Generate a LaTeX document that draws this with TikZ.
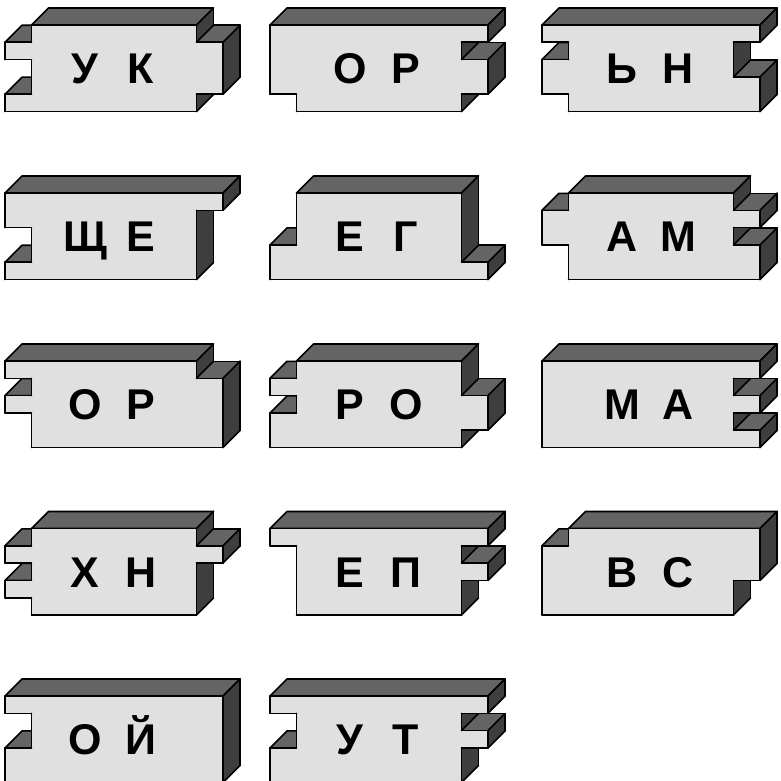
\documentclass[tikz,border=0pt]{standalone}
\usepackage{fontspec}
\setmainfont{Liberation Sans}
\definecolor{frontc}{RGB}{224,224,224}
\definecolor{topc}{RGB}{100,100,100}
\definecolor{sidec}{RGB}{62,62,62}
\def\hh{17.3}
\def\dd{17}
\tikzset{
  lab/.style={anchor=base, inner sep=0pt, font=\bfseries\fontsize{43}{50}\selectfont},
  edge/.style={draw=black, line width=1.6pt, line cap=round, line join=round},
}
% #1 x0, #2 y0, #3 left profile, #4 right profile, #5 #6 letters, #7 name
\newcommand\puzzle[7]{%
\begin{scope}[shift={(#1,#2)}]
  \pgfmathtruncatemacro\lz{{#3}[0]}%
  \pgfmathtruncatemacro\rz{{#4}[0]}%
  \pgfmathsetmacro\xlz{26.5*(1-\lz)}%
  \pgfmathsetmacro\xrz{191.5+26.5*\rz}%
  \filldraw[edge, fill=topc] (\xlz,0) -- (\xrz,0) -- (\xrz+\dd,-\dd) -- (\xlz+\dd,-\dd) -- cycle;
  % side face fills
  \foreach \k in {0,...,4}{%
    \pgfmathtruncatemacro\rk{{#4}[\k]}%
    \pgfmathtruncatemacro\kp{max(\k-1,0)}%
    \pgfmathtruncatemacro\rp{{#4}[\kp]}%
    \pgfmathsetmacro\xr{191.5+26.5*\rk}%
    \pgfmathsetmacro\yt{\k*\hh}%
    \pgfmathsetmacro\yb{(\k+1)*\hh}%
    \filldraw[fill=sidec, draw=sidec, line width=.5pt] (\xr,\yt) -- (\xr,\yb) -- (\xr+\dd,\yb-\dd) -- (\xr+\dd,\yt-\dd) -- cycle;
    \ifnum\k>0\relax\ifnum\rk>\rp\relax
      \filldraw[fill=topc, draw=topc, line width=.5pt] (191.5,\yt) -- (218,\yt) -- (218+\dd,\yt-\dd) -- (191.5+\dd,\yt-\dd) -- cycle;
    \fi\fi
  }
  % side face strokes
  \foreach \k in {0,...,4}{%
    \pgfmathtruncatemacro\rk{{#4}[\k]}%
    \pgfmathtruncatemacro\lk{{#3}[\k]}%
    \pgfmathtruncatemacro\kp{max(\k-1,0)}%
    \pgfmathtruncatemacro\rp{{#4}[\kp]}%
    \pgfmathtruncatemacro\lp{{#3}[\kp]}%
    \pgfmathsetmacro\xr{191.5+26.5*\rk}%
    \pgfmathsetmacro\yt{\k*\hh}%
    \pgfmathsetmacro\yb{(\k+1)*\hh}%
    \draw[edge] (\xr+\dd,\yt-\dd) -- (\xr+\dd,\yb-\dd);
    \ifnum\k=0\relax \draw[edge] (\xr,0) -- (\xr+\dd,-\dd); \fi
    \ifnum\k>0\relax\ifnum\rk=\rp\relax\else
      \draw[edge] (191.5,\yt) -- (191.5+\dd,\yt-\dd);
      \draw[edge] (218,\yt) -- (218+\dd,\yt-\dd);
      \ifnum\rk=1\relax \draw[edge] (191.5+\dd,\yt-\dd) -- (218+\dd,\yt-\dd); \fi
    \fi\fi
    \ifnum\k=4\relax \draw[edge] (\xr,\yb) -- (\xr+\dd,\yb-\dd); \fi
    \ifnum\k>0\relax\ifnum\lk>\lp\relax
      \filldraw[edge, fill=topc] (0,\yt) -- (26.5,\yt) -- (26.5+\dd,\yt-\dd) -- (\dd,\yt-\dd) -- cycle;
    \fi\fi
  }
  % front face fills
  \foreach \k in {0,...,4}{%
    \pgfmathtruncatemacro\rk{{#4}[\k]}%
    \pgfmathtruncatemacro\lk{{#3}[\k]}%
    \pgfmathsetmacro\xr{191.5+26.5*\rk}%
    \pgfmathsetmacro\xl{26.5*(1-\lk)}%
    \pgfmathsetmacro\yt{\k*\hh-0.4}%
    \pgfmathsetmacro\yb{(\k+1)*\hh+0.4}%
    \fill[frontc] (\xl,\yt) rectangle (\xr,\yb);
  }
  % front face strokes
  \foreach \k in {0,...,4}{%
    \pgfmathtruncatemacro\rk{{#4}[\k]}%
    \pgfmathtruncatemacro\lk{{#3}[\k]}%
    \pgfmathtruncatemacro\kp{max(\k-1,0)}%
    \pgfmathtruncatemacro\rp{{#4}[\kp]}%
    \pgfmathtruncatemacro\lp{{#3}[\kp]}%
    \pgfmathsetmacro\xr{191.5+26.5*\rk}%
    \pgfmathsetmacro\xl{26.5*(1-\lk)}%
    \pgfmathsetmacro\yt{\k*\hh}%
    \pgfmathsetmacro\yb{(\k+1)*\hh}%
    \draw[edge] (\xl,\yt) -- (\xl,\yb);
    \draw[edge] (\xr,\yt) -- (\xr,\yb);
    \ifnum\k=0\relax \draw[edge] (\xl,0) -- (\xr,0); \fi
    \ifnum\k=4\relax \draw[edge] (\xl,\yb) -- (\xr,\yb); \fi
    \ifnum\k>0\relax
      \ifnum\lk=\lp\relax\else \draw[edge] (0,\yt) -- (26.5,\yt); \fi
      \ifnum\rk=\rp\relax\else \draw[edge] (191.5,\yt) -- (218,\yt); \fi
    \fi
  }
  \node[lab] (#7a) at (80,58.5) {#5};
  \node[lab] (#7b) at (136,58.5) {#6};
\end{scope}}
\begin{document}
\begin{tikzpicture}[x=1pt,y=-1pt]
\useasboundingbox (0,0) rectangle (781,781);
\puzzle{5}{25}{0,1,0,0,1}{0,1,1,1,0}{У}{К}{p1}
\puzzle{270}{25}{1,1,1,1,0}{1,0,1,1,0}{О}{Р}{p2}
\puzzle{542}{25}{1,0,1,1,0}{1,0,0,1,1}{Ь}{Н}{p3}
\puzzle{5}{193}{1,1,0,0,1}{1,0,0,0,0}{Щ}{Е}{p4}
\puzzle{270}{193}{0,0,0,1,1}{0,0,0,0,1}{Е}{Г}{p5}
\puzzle{542}{193}{0,1,1,0,0}{0,1,0,1,1}{А}{М}{p6}
\puzzle{5}{361}{1,0,1,0,0}{0,1,1,1,1}{О}{Р}{p7}
\puzzle{270}{361}{0,1,0,1,1}{0,0,1,1,0}{Р}{О}{p8}
\puzzle{542}{361}{1,1,1,1,1}{1,0,1,0,1}{М}{А}{p9}
\puzzle{5}{528.5}{0,1,0,1,0}{0,1,0,0,0}{Х}{Н}{p10}
\puzzle{270}{528.5}{1,0,0,0,0}{1,0,1,0,0}{Е}{П}{p11}
\puzzle{542}{528.5}{0,1,1,1,1}{1,1,1,0,0}{В}{С}{p12}
\puzzle{5}{696}{1,0,0,1,1}{1,1,1,1,1}{О}{Й}{p13}
\puzzle{270}{696}{1,0,0,1,1}{1,0,1,0,0}{У}{Т}{p14}
\end{tikzpicture}
\end{document}
